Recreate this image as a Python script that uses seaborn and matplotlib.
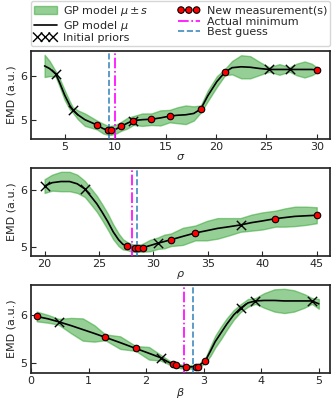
import numpy as np
import matplotlib
matplotlib.use("Agg")
import matplotlib.pyplot as plt
import seaborn as sns
from matplotlib.ticker import MultipleLocator

# sigma panel: GP mean / std
sigma_x = [3.0, 3.5, 4.1, 4.5, 5.0, 5.5, 5.8, 6.3, 7.0, 7.6, 8.2, 8.8, 9.3, 9.6, 10.1,
           10.6, 11.2, 11.8, 12.7, 13.6, 14.5, 15.4, 16.2, 17.0, 17.8, 18.5, 19.2, 20.1,
           20.9, 21.6, 22.5, 23.4, 24.4, 25.3, 26.3, 27.3, 28.0, 28.8, 29.5, 30.0]
sigma_mu = [6.22, 6.16, 6.04, 5.84, 5.56, 5.33, 5.23, 5.12, 5.01, 4.95, 4.89, 4.81, 4.77,
            4.77, 4.80, 4.86, 4.93, 4.99, 5.01, 5.02, 5.05, 5.09, 5.11, 5.12, 5.15, 5.25,
            5.55, 5.87, 6.08, 6.18, 6.20, 6.19, 6.16, 6.14, 6.14, 6.14, 6.14, 6.14, 6.14, 6.13]
sigma_s = [0.25, 0.17, 0.06, 0.09, 0.11, 0.09, 0.06, 0.10, 0.14, 0.12, 0.10, 0.11, 0.10,
           0.10, 0.10, 0.10, 0.12, 0.10, 0.14, 0.13, 0.17, 0.14, 0.18, 0.21, 0.16, 0.08,
           0.12, 0.12, 0.07, 0.15, 0.26, 0.25, 0.14, 0.05, 0.12, 0.05, 0.13, 0.18, 0.13, 0.06]
sigma_prior_x = [4.1, 5.8, 11.8, 25.3, 27.3]
sigma_prior_y = [6.04, 5.23, 4.99, 6.14, 6.14]
sigma_new_x = [8.2, 9.3, 9.6, 10.6, 11.8, 13.6, 15.4, 18.5, 20.9, 30.0]
sigma_new_y = [4.89, 4.77, 4.77, 4.86, 4.99, 5.02, 5.09, 5.25, 6.08, 6.13]
sigma_true, sigma_best = 10.0, 9.4

# rho panel
rho_x = [20.0, 20.7, 21.5, 22.3, 23.0, 23.7, 24.3, 24.8, 25.3, 25.8, 26.3, 26.8, 27.2,
         27.6, 28.0, 28.3, 28.6, 29.0, 29.7, 30.4, 31.0, 31.6, 32.7, 33.85, 34.9, 35.9,
         37.0, 38.0, 39.0, 40.0, 41.2, 42.1, 43.0, 44.0, 45.0]
rho_mu = [6.07, 6.13, 6.15, 6.15, 6.11, 6.02, 5.88, 5.76, 5.61, 5.45, 5.27, 5.13, 5.05,
          5.02, 4.99, 4.98, 4.98, 4.99, 5.03, 5.07, 5.10, 5.13, 5.19, 5.25, 5.29, 5.33,
          5.36, 5.39, 5.43, 5.46, 5.50, 5.52, 5.54, 5.55, 5.56]
rho_s = [0.12, 0.14, 0.17, 0.17, 0.16, 0.14, 0.14, 0.14, 0.14, 0.14, 0.13, 0.11, 0.09,
         0.07, 0.07, 0.06, 0.06, 0.07, 0.10, 0.10, 0.12, 0.11, 0.15, 0.13, 0.17, 0.18,
         0.15, 0.12, 0.14, 0.15, 0.14, 0.16, 0.17, 0.16, 0.14]
rho_prior_x = [20.0, 23.7, 30.4, 38.0]
rho_prior_y = [6.07, 6.02, 5.07, 5.39]
rho_new_x = [27.6, 28.3, 28.6, 29.0, 31.6, 33.85, 41.2, 45.0]
rho_new_y = [5.02, 4.98, 4.98, 4.99, 5.13, 5.25, 5.50, 5.56]
rho_true, rho_best = 28.0, 28.5

# beta panel
beta_x = [0.1, 0.3, 0.48, 0.7, 0.9, 1.1, 1.29, 1.55, 1.82, 2.05, 2.25, 2.4, 2.5, 2.6,
          2.7, 2.8, 2.89, 3.03, 3.12, 3.2, 3.3, 3.4, 3.52, 3.64, 3.77, 3.9, 4.05, 4.23,
          4.4, 4.57, 4.75, 4.88, 5.0]
beta_mu = [5.96, 5.91, 5.85, 5.77, 5.69, 5.61, 5.53, 5.42, 5.30, 5.20, 5.11, 5.01, 4.96,
           4.93, 4.92, 4.92, 4.92, 5.05, 5.25, 5.44, 5.62, 5.80, 5.99, 6.13, 6.24, 6.28,
           6.29, 6.29, 6.28, 6.28, 6.28, 6.28, 6.22]
beta_s = [0.10, 0.08, 0.06, 0.16, 0.23, 0.17, 0.06, 0.13, 0.05, 0.13, 0.06, 0.04, 0.03,
          0.04, 0.03, 0.04, 0.03, 0.05, 0.10, 0.12, 0.13, 0.12, 0.10, 0.08, 0.08, 0.06,
          0.15, 0.23, 0.25, 0.22, 0.14, 0.06, 0.10]
beta_prior_x = [0.48, 2.25, 3.64, 3.9, 4.88]
beta_prior_y = [5.85, 5.11, 6.13, 6.28, 6.28]
beta_new_x = [0.1, 1.29, 1.82, 2.46, 2.52, 2.7, 2.87, 2.9, 3.03]
beta_new_y = [5.96, 5.53, 5.30, 4.97, 4.96, 4.92, 4.92, 4.92, 5.05]
beta_true, beta_best = 2.66, 2.82

panels = [
    (r"$\sigma$", sigma_x, sigma_mu, sigma_s, sigma_prior_x, sigma_prior_y,
     sigma_new_x, sigma_new_y, sigma_true, sigma_best),
    (r"$\rho$", rho_x, rho_mu, rho_s, rho_prior_x, rho_prior_y,
     rho_new_x, rho_new_y, rho_true, rho_best),
    (r"$\beta$", beta_x, beta_mu, beta_s, beta_prior_x, beta_prior_y,
     beta_new_x, beta_new_y, beta_true, beta_best),
]

sns.set_style("ticks", {"xtick.direction": "in", "ytick.direction": "in"})
plt.rcParams["font.family"] = ["DejaVu Sans"]
plt.rcParams["font.size"] = 8
plt.rcParams["axes.labelsize"] = 8
plt.rcParams["xtick.labelsize"] = 8
plt.rcParams["ytick.labelsize"] = 8
plt.rcParams["xtick.major.size"] = 3.5
plt.rcParams["ytick.major.size"] = 3.5
plt.rcParams["xtick.major.pad"] = 2.5
plt.rcParams["ytick.major.pad"] = 2.5

fig, axes = plt.subplots(3, 1, figsize=(3.33, 4.0), dpi=100)
fig.subplots_adjust(left=0.093, right=0.992, top=0.873, bottom=0.068, hspace=0.33)

for ax, (lab, x, mu, s, px, py, nx, ny, xtrue, xbest) in zip(axes, panels):
    x = np.array(x)
    mu = np.array(mu)
    s = np.array(s)
    ax.fill_between(x, mu - s, mu + s, color="tab:green", alpha=0.5, lw=1,
                    label=r"GP model $\mu \pm s$", zorder=1)
    sns.lineplot(x=x, y=mu, color="k", lw=1.2, ax=ax, label=r"GP model $\mu$",
                 legend=False, zorder=2)
    sns.scatterplot(x=px, y=py, marker="x", color="k", s=45, linewidth=1.0, ax=ax,
                    label="Initial priors", legend=False, zorder=4)
    sns.scatterplot(x=nx, y=ny, marker="o", color="red", edgecolor="k", s=22,
                    linewidth=0.8, ax=ax, label="New measurement(s)", legend=False, zorder=5)
    ax.axvline(xtrue, color="magenta", ls="-.", lw=1.2, label="Actual minimum", zorder=3)
    ax.axvline(xbest, color="#1f77b4", ls="--", lw=1.2, alpha=0.85, label="Best guess", zorder=3)
    ax.set_xlabel(lab, labelpad=0)
    ax.set_ylabel("EMD (a.u.)", labelpad=3)
    ax.yaxis.set_major_locator(MultipleLocator(1))
    for sp in ax.spines.values():
        sp.set_linewidth(1.25)

axes[2].set_xlim(0, 5.2)

order = [r"GP model $\mu \pm s$", r"GP model $\mu$", "Initial priors",
         "New measurement(s)", "Actual minimum", "Best guess"]
h, l = axes[0].get_legend_handles_labels()
lookup = dict(zip(l, h))
axes[0].legend([lookup[k] for k in order], order, loc="lower left",
               bbox_to_anchor=(0, 1.05, 1, 0.5), mode="expand", ncol=2,
               fontsize=8, labelspacing=0.05, borderaxespad=0, handlelength=2.0,
               borderpad=0.3, columnspacing=1.5, scatterpoints=3,
               scatteryoffsets=[0.5], handletextpad=0.6)

plt.savefig("out.png", dpi=100)
